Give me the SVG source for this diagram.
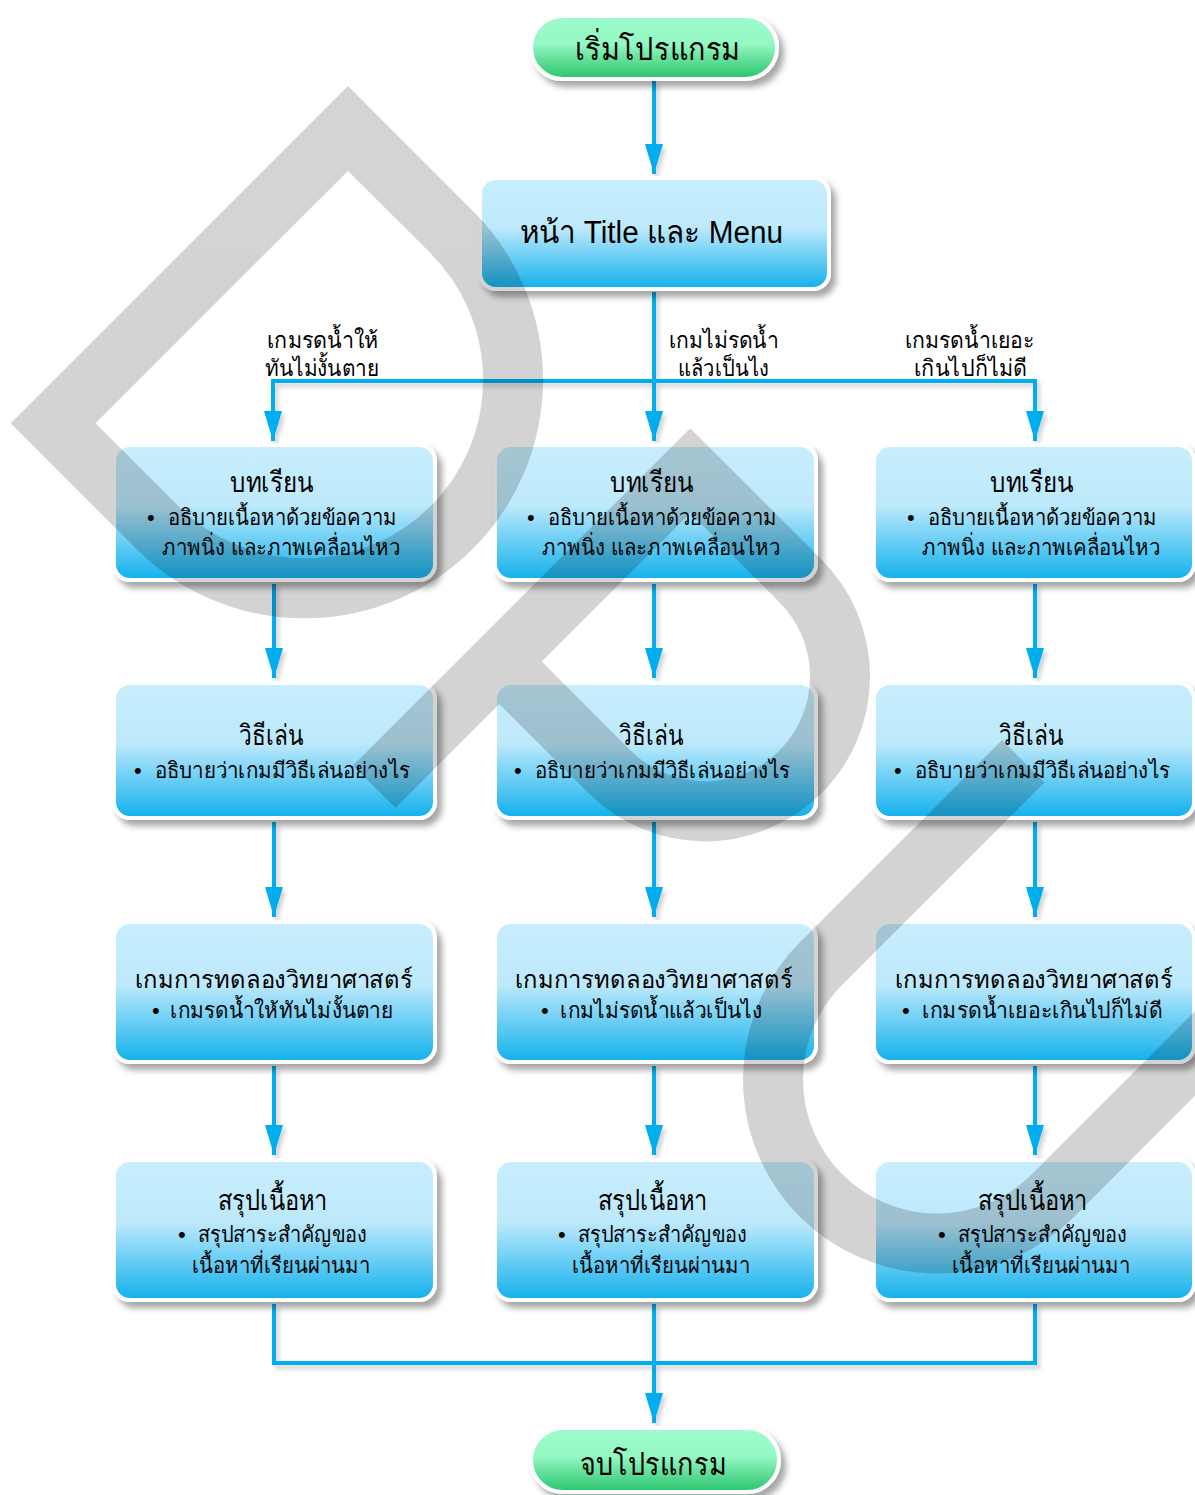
<svg xmlns="http://www.w3.org/2000/svg" width="1195" height="1495" viewBox="0 0 1195 1495">
  <defs>
    <linearGradient id="gBlue" x1="0" y1="0" x2="0" y2="1">
      <stop offset="0" stop-color="#c8eefd"/>
      <stop offset="0.45" stop-color="#bde9fb"/>
      <stop offset="0.58" stop-color="#93dbf8"/>
      <stop offset="0.8" stop-color="#4fc5f2"/>
      <stop offset="1" stop-color="#12b0ec"/>
    </linearGradient>
    <linearGradient id="gGreen" x1="0" y1="0" x2="0" y2="1">
      <stop offset="0" stop-color="#9efccc"/>
      <stop offset="0.45" stop-color="#93f8c3"/>
      <stop offset="0.62" stop-color="#72e6a4"/>
      <stop offset="1" stop-color="#27c36c"/>
    </linearGradient>
    <filter id="shadow" x="-10%" y="-10%" width="130%" height="140%">
      <feDropShadow dx="5" dy="6" stdDeviation="3" flood-color="#000" flood-opacity="0.35"/>
    </filter>
    <filter id="lineShadow" x="-5%" y="-5%" width="110%" height="110%">
      <feDropShadow dx="3" dy="4" stdDeviation="2" flood-color="#000" flood-opacity="0.18"/>
    </filter>
    <marker id="arrow" markerUnits="userSpaceOnUse" markerWidth="30" markerHeight="18" refX="30" refY="9" orient="auto">
      <path d="M0,0 L30,9 L0,18 Z" fill="#00aeef"/>
    </marker>
    <style>
      .box { fill: url(#gBlue); stroke: #fff; stroke-width: 4; filter: url(#shadow); }
      .pill { fill: url(#gGreen); stroke: #fff; stroke-width: 4; filter: url(#shadow); }
      .line { fill: none; stroke: #00aeef; stroke-width: 4; }
      text { font-family: "Liberation Sans", "Noto Sans", sans-serif; fill: #000; }
      .head { font-size: 28px; }
      .head2 { font-size: 24px; }
      .body { font-size: 22px; }
      .lbl { font-size: 23px; }
      .big { font-size: 31px; }
    </style>
  </defs>

  <!-- connectors -->
  <g id="connectors" filter="url(#lineShadow)">
    <path class="line" d="M654,80 V174" marker-end="url(#arrow)"/>
    <path class="line" d="M654,292 V441" marker-end="url(#arrow)"/>
    <path class="line" d="M273,441 V381 H1035 V441" marker-end="url(#arrow)"/>
    <path class="line" d="M273,381 V441" marker-end="url(#arrow)"/>
    <path class="line" d="M274,584 V678" marker-end="url(#arrow)"/>
    <path class="line" d="M654,584 V678" marker-end="url(#arrow)"/>
    <path class="line" d="M1035,584 V678" marker-end="url(#arrow)"/>
    <path class="line" d="M274,822 V917" marker-end="url(#arrow)"/>
    <path class="line" d="M654,822 V917" marker-end="url(#arrow)"/>
    <path class="line" d="M1035,822 V917" marker-end="url(#arrow)"/>
    <path class="line" d="M274,1066 V1155" marker-end="url(#arrow)"/>
    <path class="line" d="M654,1066 V1155" marker-end="url(#arrow)"/>
    <path class="line" d="M1035,1066 V1155" marker-end="url(#arrow)"/>
    <path class="line" d="M274,1304 V1363 H1035 V1304"/>
    <path class="line" d="M654,1304 V1423" marker-end="url(#arrow)"/>
  </g>

  <!-- branch labels -->
  <g id="labels">
    <text class="lbl" x="267" y="348" textLength="111" lengthAdjust="spacingAndGlyphs">เกมรดน้ำให้</text>
    <text class="lbl" x="265" y="376" textLength="114" lengthAdjust="spacingAndGlyphs">ทันไม่งั้นตาย</text>
    <text class="lbl" x="669" y="348" textLength="110" lengthAdjust="spacingAndGlyphs">เกมไม่รดน้ำ</text>
    <text class="lbl" x="678" y="376" textLength="91" lengthAdjust="spacingAndGlyphs">แล้วเป็นไง</text>
    <text class="lbl" x="905" y="348" textLength="129" lengthAdjust="spacingAndGlyphs">เกมรดน้ำเยอะ</text>
    <text class="lbl" x="914" y="376" textLength="113" lengthAdjust="spacingAndGlyphs">เกินไปก็ไม่ดี</text>
  </g>

  <g id="start">
    <rect class="pill" x="531" y="16" width="246" height="63" rx="31.5"/>
    <text class="big" x="575" y="60" textLength="165" lengthAdjust="spacingAndGlyphs">เริ่มโปรแกรม</text>
  </g>

  <g id="title-menu">
    <rect class="box" x="480" y="178" width="349" height="111" rx="16"/>
    <text class="big" x="520" y="243" textLength="263" lengthAdjust="spacingAndGlyphs">หน้า Title และ Menu</text>
  </g>

  <!-- column 1 -->
  <g id="lesson-1">
    <rect class="box" x="114" y="445" width="321" height="135" rx="16"/>
    <text class="head" x="230" y="492" textLength="83" lengthAdjust="spacingAndGlyphs">บทเรียน</text>
    <text class="body" x="147" y="525">•</text>
    <text class="body" x="168" y="525" textLength="229" lengthAdjust="spacingAndGlyphs">อธิบายเนื้อหาด้วยข้อความ</text>
    <text class="body" x="162" y="555" textLength="238" lengthAdjust="spacingAndGlyphs">ภาพนิ่ง และภาพเคลื่อนไหว</text>
  </g>
  <g id="howto-1">
    <rect class="box" x="114" y="683" width="321" height="135" rx="16"/>
    <text class="head" x="239" y="745" textLength="64" lengthAdjust="spacingAndGlyphs">วิธีเล่น</text>
    <text class="body" x="134" y="778">•</text>
    <text class="body" x="155" y="778" textLength="255" lengthAdjust="spacingAndGlyphs">อธิบายว่าเกมมีวิธีเล่นอย่างไร</text>
  </g>
  <g id="game-1">
    <rect class="box" x="114" y="922" width="321" height="140" rx="16"/>
    <text class="head2" x="135" y="988" textLength="278" lengthAdjust="spacingAndGlyphs">เกมการทดลองวิทยาศาสตร์</text>
    <text class="body" x="152" y="1018">•</text>
    <text class="body" x="170" y="1018" textLength="223" lengthAdjust="spacingAndGlyphs">เกมรดน้ำให้ทันไม่งั้นตาย</text>
  </g>
  <g id="summary-1">
    <rect class="box" x="114" y="1160" width="321" height="140" rx="16"/>
    <text class="head" x="218" y="1210" textLength="110" lengthAdjust="spacingAndGlyphs">สรุปเนื้อหา</text>
    <text class="body" x="178" y="1242">•</text>
    <text class="body" x="198" y="1242" textLength="169" lengthAdjust="spacingAndGlyphs">สรุปสาระสำคัญของ</text>
    <text class="body" x="192" y="1273" textLength="178" lengthAdjust="spacingAndGlyphs">เนื้อหาที่เรียนผ่านมา</text>
  </g>

  <!-- column 2 -->
  <g id="lesson-2">
    <rect class="box" x="495" y="445" width="321" height="135" rx="16"/>
    <text class="head" x="610" y="492" textLength="83" lengthAdjust="spacingAndGlyphs">บทเรียน</text>
    <text class="body" x="527" y="525">•</text>
    <text class="body" x="548" y="525" textLength="229" lengthAdjust="spacingAndGlyphs">อธิบายเนื้อหาด้วยข้อความ</text>
    <text class="body" x="542" y="555" textLength="238" lengthAdjust="spacingAndGlyphs">ภาพนิ่ง และภาพเคลื่อนไหว</text>
  </g>
  <g id="howto-2">
    <rect class="box" x="495" y="683" width="321" height="135" rx="16"/>
    <text class="head" x="619" y="745" textLength="64" lengthAdjust="spacingAndGlyphs">วิธีเล่น</text>
    <text class="body" x="514" y="778">•</text>
    <text class="body" x="535" y="778" textLength="255" lengthAdjust="spacingAndGlyphs">อธิบายว่าเกมมีวิธีเล่นอย่างไร</text>
  </g>
  <g id="game-2">
    <rect class="box" x="495" y="922" width="321" height="140" rx="16"/>
    <text class="head2" x="515" y="988" textLength="278" lengthAdjust="spacingAndGlyphs">เกมการทดลองวิทยาศาสตร์</text>
    <text class="body" x="541" y="1018">•</text>
    <text class="body" x="560" y="1018" textLength="202" lengthAdjust="spacingAndGlyphs">เกมไม่รดน้ำแล้วเป็นไง</text>
  </g>
  <g id="summary-2">
    <rect class="box" x="495" y="1160" width="321" height="140" rx="16"/>
    <text class="head" x="598" y="1210" textLength="110" lengthAdjust="spacingAndGlyphs">สรุปเนื้อหา</text>
    <text class="body" x="558" y="1242">•</text>
    <text class="body" x="578" y="1242" textLength="169" lengthAdjust="spacingAndGlyphs">สรุปสาระสำคัญของ</text>
    <text class="body" x="572" y="1273" textLength="178" lengthAdjust="spacingAndGlyphs">เนื้อหาที่เรียนผ่านมา</text>
  </g>

  <!-- column 3 -->
  <g id="lesson-3">
    <rect class="box" x="874" y="445" width="320" height="135" rx="16"/>
    <text class="head" x="990" y="492" textLength="83" lengthAdjust="spacingAndGlyphs">บทเรียน</text>
    <text class="body" x="907" y="525">•</text>
    <text class="body" x="928" y="525" textLength="229" lengthAdjust="spacingAndGlyphs">อธิบายเนื้อหาด้วยข้อความ</text>
    <text class="body" x="922" y="555" textLength="238" lengthAdjust="spacingAndGlyphs">ภาพนิ่ง และภาพเคลื่อนไหว</text>
  </g>
  <g id="howto-3">
    <rect class="box" x="874" y="683" width="320" height="135" rx="16"/>
    <text class="head" x="999" y="745" textLength="64" lengthAdjust="spacingAndGlyphs">วิธีเล่น</text>
    <text class="body" x="894" y="778">•</text>
    <text class="body" x="915" y="778" textLength="255" lengthAdjust="spacingAndGlyphs">อธิบายว่าเกมมีวิธีเล่นอย่างไร</text>
  </g>
  <g id="game-3">
    <rect class="box" x="874" y="922" width="320" height="140" rx="16"/>
    <text class="head2" x="895" y="988" textLength="278" lengthAdjust="spacingAndGlyphs">เกมการทดลองวิทยาศาสตร์</text>
    <text class="body" x="902" y="1018">•</text>
    <text class="body" x="922" y="1018" textLength="240" lengthAdjust="spacingAndGlyphs">เกมรดน้ำเยอะเกินไปก็ไม่ดี</text>
  </g>
  <g id="summary-3">
    <rect class="box" x="874" y="1160" width="320" height="140" rx="16"/>
    <text class="head" x="978" y="1210" textLength="110" lengthAdjust="spacingAndGlyphs">สรุปเนื้อหา</text>
    <text class="body" x="938" y="1242">•</text>
    <text class="body" x="958" y="1242" textLength="169" lengthAdjust="spacingAndGlyphs">สรุปสาระสำคัญของ</text>
    <text class="body" x="952" y="1273" textLength="178" lengthAdjust="spacingAndGlyphs">เนื้อหาที่เรียนผ่านมา</text>
  </g>

  <g id="end">
    <rect class="pill" x="531" y="1428" width="248" height="64" rx="32"/>
    <text class="big" x="580" y="1475" textLength="146" lengthAdjust="spacingAndGlyphs">จบโปรแกรม</text>
  </g>

  <!-- translucent D P U letters laid diagonally across the page -->
  <g id="watermark" opacity="0.17" transform="translate(348,86) rotate(45)" fill="none" stroke="#000" stroke-width="60" stroke-linejoin="miter">
    <path d="M30,30 H177 A208.5,208.5 0 0 1 177,447 H30 Z"/>
    <path d="M514,477 V30 H670 A135,135 0 0 1 670,300 H514"/>
    <path d="M955,0 V286 A164,164 0 0 0 1283,286 V0"/>
  </g>
</svg>
